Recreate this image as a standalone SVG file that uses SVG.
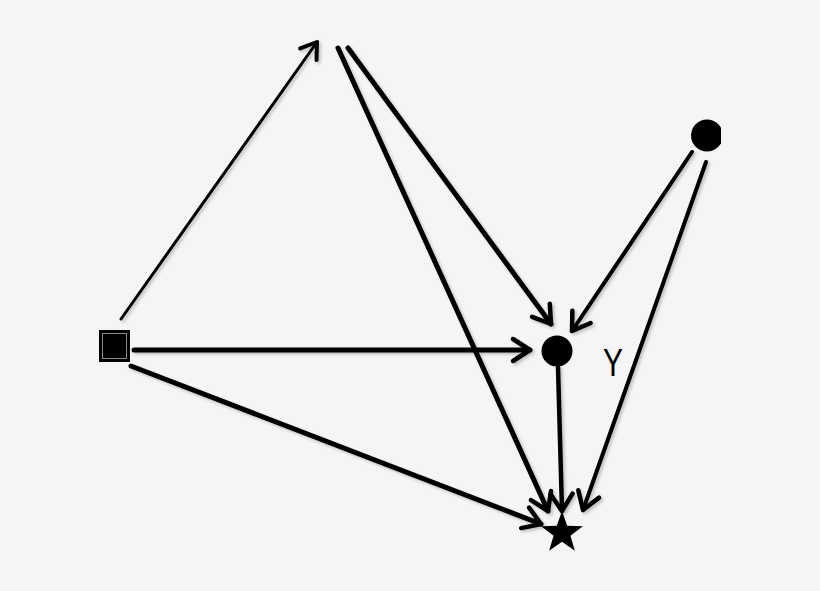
<svg xmlns="http://www.w3.org/2000/svg" width="820" height="591" viewBox="0 0 820 591">
<style>
.edge{stroke:#000;fill:none;stroke-linecap:round}
.node{fill:#000}
.lbl{font-family:"Liberation Sans",Arial,sans-serif;font-size:39px;fill:#000}
</style>
<defs>
<marker id="ah" markerUnits="userSpaceOnUse" markerWidth="40" markerHeight="40" refX="0" refY="0" viewBox="-25 -20 30 40" orient="auto" overflow="visible">
<path d="M-17,-11 L0,0 L-17,11" fill="none" stroke="#000" stroke-width="4.5" stroke-linecap="round" stroke-linejoin="round"/>
</marker>
<marker id="ahs" markerUnits="userSpaceOnUse" markerWidth="40" markerHeight="40" refX="0" refY="0" viewBox="-25 -20 30 40" orient="auto" overflow="visible">
<path d="M-15,-10 L0,0 L-15,10" fill="none" stroke="#000" stroke-width="4" stroke-linecap="round" stroke-linejoin="round"/>
</marker>
<filter id="sh" x="-10%" y="-10%" width="120%" height="120%">
<feDropShadow dx="2" dy="2" stdDeviation="1.5" flood-color="#000" flood-opacity="0.22"/>
</filter>
<clipPath id="clipR"><rect x="680" y="110" width="41" height="50"/></clipPath>
</defs>
<rect width="820" height="591" fill="#f5f5f5"/>
<g id="connectors" filter="url(#sh)">
<line class="edge" x1="121" y1="319" x2="317" y2="42" stroke-width="3" marker-end="url(#ahs)"/>
<line class="edge" x1="338" y1="48" x2="548" y2="511" stroke-width="5" marker-end="url(#ah)"/>
<line class="edge" x1="348" y1="48" x2="551" y2="324" stroke-width="5" marker-end="url(#ah)"/>
<line class="edge" x1="692" y1="152" x2="572" y2="331" stroke-width="4" marker-end="url(#ah)"/>
<line class="edge" x1="706" y1="162" x2="583" y2="510" stroke-width="4" marker-end="url(#ah)"/>
<line class="edge" x1="134" y1="350" x2="530" y2="350" stroke-width="5" marker-end="url(#ah)"/>
<line class="edge" x1="131" y1="366" x2="541" y2="524" stroke-width="5" marker-end="url(#ah)"/>
<line class="edge" x1="558" y1="367" x2="562" y2="511" stroke-width="4.5" marker-end="url(#ah)"/>
</g>
<g id="node-top"></g>
<g id="node-square">
<rect class="node" x="99" y="330" width="31" height="32"/>
<rect x="102.5" y="333.5" width="24" height="25" fill="none" stroke="#8a8a8a" stroke-width="1"/>
</g>
<g id="node-right">
<circle class="node" cx="707" cy="135.5" r="16" clip-path="url(#clipR)"/>
</g>
<g id="node-Y">
<circle class="node" cx="557" cy="351" r="15.5"/>
<text class="lbl" x="603" y="376" textLength="20" lengthAdjust="spacingAndGlyphs">Y</text>
</g>
<g id="node-star">
<polygon class="node" points="562,511 567.2,525.8 582.9,526.2 570.4,535.7 574.9,550.8 562,541.8 549.1,550.8 553.6,535.7 541.1,526.2 556.8,525.8"/>
</g>
</svg>
